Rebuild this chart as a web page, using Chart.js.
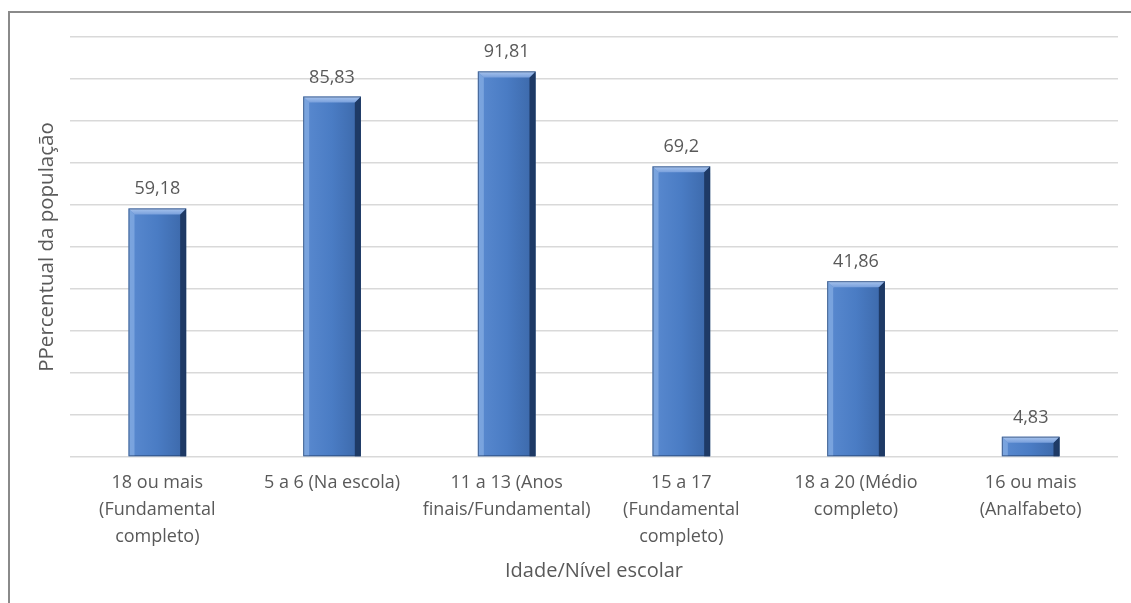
<!DOCTYPE html>
<html>
<head>
<meta charset="utf-8">
<script src="https://cdn.jsdelivr.net/npm/chart.js@4/dist/chart.umd.min.js"></script>
<style>
  body { margin: 0; background: #fff; overflow: hidden; }
  #moldura { position: absolute; left: 8px; top: 11px; width: 1200px; height: 700px;
    border-left: 2px solid #8a8a8a; border-top: 2px solid #8a8a8a; }
  #grafico { position: absolute; left: 0; top: 0; }
</style>
</head>
<body>
<div id="moldura"></div>
<canvas id="grafico" width="1131" height="603"></canvas>
<script>
// dados
const categorias = [
  ['18 ou mais', '(Fundamental', 'completo)'],
  ['5 a 6 (Na escola)'],
  ['11 a 13 (Anos', 'finais/Fundamental)'],
  ['15 a 17', '(Fundamental', 'completo)'],
  ['18 a 20 (Médio', 'completo)'],
  ['16 ou mais', '(Analfabeto)']
]
const percentuais = [59.18, 85.83, 91.81, 69.2, 41.86, 4.83]
const eixoY = { min: 0, max: 100, passo: 10 }

const corTexto = '#595959'
const fonte = '"Open Sans", Lato, sans-serif'

// barras com efeito de bisel (estilo Excel) + rótulos de dados
const biselPlugin = {
  id: 'bisel',
  afterDatasetsDraw(chart) {
    const ctx = chart.ctx
    const meta = chart.getDatasetMeta(0)
    meta.data.forEach((bar, i) => {
      const p = bar.getProps(['x', 'y', 'base', 'width'], true)
      const l = p.x - p.width / 2, r = p.x + p.width / 2
      const t = p.y, b = p.base
      const h = b - t
      const bv = Math.min(6, h / 2)
      ctx.save()
      // corpo
      const g = ctx.createLinearGradient(l, 0, r, 0)
      g.addColorStop(0, '#5a8ad0')
      g.addColorStop(0.5, '#4a7cc4')
      g.addColorStop(1, '#3b67a8')
      ctx.fillStyle = g
      ctx.fillRect(l, t, p.width, h)
      // lado esquerdo
      ctx.fillStyle = 'rgba(150,185,235,0.55)'
      ctx.beginPath()
      ctx.moveTo(l, t); ctx.lineTo(l + bv, t + bv); ctx.lineTo(l + bv, b); ctx.lineTo(l, b)
      ctx.fill()
      // lado direito escuro
      ctx.fillStyle = '#1e3a66'
      ctx.beginPath()
      ctx.moveTo(r, t); ctx.lineTo(r - bv, t + bv); ctx.lineTo(r - bv, b); ctx.lineTo(r, b)
      ctx.fill()
      // topo claro
      const gt = ctx.createLinearGradient(0, t, 0, t + bv)
      gt.addColorStop(0, '#a9c5ee')
      gt.addColorStop(1, '#79a0dc')
      ctx.fillStyle = gt
      ctx.beginPath()
      ctx.moveTo(l, t); ctx.lineTo(r, t); ctx.lineTo(r - bv, t + bv); ctx.lineTo(l + bv, t + bv)
      ctx.fill()
      // contorno
      ctx.strokeStyle = 'rgba(30,55,95,0.6)'
      ctx.lineWidth = 1
      ctx.strokeRect(l + 0.5, t + 0.5, p.width - 1, h - 1)
      // rótulo
      ctx.fillStyle = corTexto
      ctx.font = '18px ' + fonte
      ctx.textAlign = 'center'
      ctx.textBaseline = 'alphabetic'
      ctx.fillText(String(percentuais[i]).replace('.', ','), p.x, t - 14)
      ctx.restore()
    })
  }
}

new Chart(document.getElementById('grafico'), {
  type: 'bar',
  data: {
    labels: categorias,
    datasets: [{
      data: percentuais,
      backgroundColor: 'rgba(0,0,0,0)',
      borderWidth: 0,
      barPercentage: 0.33,
      categoryPercentage: 1
    }]
  },
  options: {
    responsive: false,
    devicePixelRatio: 1,
    animation: false,
    layout: { padding: { top: 37, right: 13, left: 0, bottom: 0 } },
    plugins: {
      legend: { display: false },
      tooltip: { enabled: false }
    },
    scales: {
      x: {
        grid: { display: false },
        border: { display: false },
        ticks: {
          color: corTexto,
          font: { family: fonte, size: 18, lineHeight: 1.5 },
          padding: 4,
          maxRotation: 0,
          autoSkip: false
        },
        title: {
          display: true,
          text: 'Idade/Nível escolar',
          color: corTexto,
          font: { family: fonte, size: 20 },
          padding: { top: 0, bottom: 20 }
        },
        afterFit(scale) { scale.height = 146 }
      },
      y: {
        min: eixoY.min,
        max: eixoY.max,
        grid: { color: '#d9d9d9', lineWidth: 1.5, drawTicks: false },
        border: { display: false },
        ticks: { display: false, stepSize: eixoY.passo },
        title: {
          display: true,
          text: 'PPercentual da população',
          color: corTexto,
          font: { family: fonte, size: 20.5 },
          padding: { top: 35, bottom: 0 }
        },
        afterFit(scale) { scale.width = 70 }
      }
    }
  },
  plugins: [biselPlugin]
})
</script>
</body>
</html>
